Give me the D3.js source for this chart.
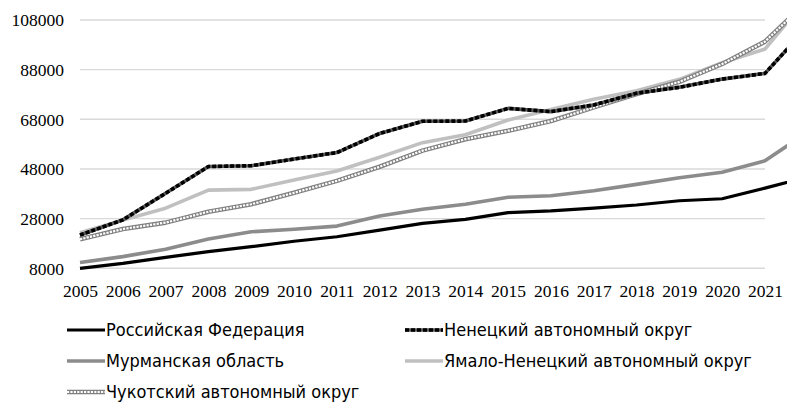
<!DOCTYPE html>
<html><head><meta charset="utf-8">
<script src="https://cdn.jsdelivr.net/npm/d3@7"></script>
<style>
html,body{margin:0;padding:0;background:#fff;}
svg{display:block;}
</style></head>
<body>
<svg id="chart" width="787" height="404"></svg>
<script>
const years = [2005,2006,2007,2008,2009,2010,2011,2012,2013,2014,2015,2016,2017,2018,2019,2020,2021,2022];
const yearLabels = ["2005","2006","2007","2008","2009","2010","2011","2012","2013","2014","2015","2016","2017","2018","2019","2020","2021"];
const yTicks = [8000,28000,48000,68000,88000,108000];
const seriesNames = ["Российская Федерация","Ненецкий автономный округ","Мурманская область","Ямало-Ненецкий автономный округ","Чукотский автономный округ"];
const russia   = [8000,10000,12400,14700,16700,18900,20700,23400,26100,27700,30400,31100,32200,33500,35200,36000,40300,44800];
const nenets   = [21400,27500,38200,49000,49300,52000,54600,62300,67200,67300,72400,71100,73800,78500,80900,84200,86500,105300];
const murmansk = [10300,12700,15700,19800,22700,23700,25000,29100,31800,33800,36600,37200,39200,41800,44500,46700,51300,62900];
const yamal    = [22300,27400,32200,39500,39800,43600,47200,52700,58600,61800,67700,72000,76100,79500,84100,90800,96300,117000];
const chukotka = [19700,23800,26400,30800,33800,38400,43200,48900,55400,60000,63400,67300,72800,78200,83100,90300,99300,115700];

const AXIS_FONT = "Liberation Serif";
const LEG_FONT = "DejaVu Sans Condensed";

const svg = d3.select("#chart");
const x = d3.scalePoint().domain(years).range([80, 80 + 17*42.81]);
const y = d3.scaleLinear().domain([8000,108000]).range([268.3, 20]);

svg.append("g").selectAll("line").data(yTicks).join("line")
  .attr("x1", x(2005)).attr("x2", x(2021))
  .attr("y1", d=>y(d)).attr("y2", d=>y(d))
  .attr("stroke", "#d9d9d9").attr("stroke-width", 1.4);

const yAxis = d3.axisLeft(y).tickValues(yTicks).tickSize(0).tickPadding(0).tickFormat(d3.format("d"));
const gy = svg.append("g").attr("transform","translate(64,0)").call(yAxis);
gy.select(".domain").remove();
gy.selectAll("text").attr("dy","0.33em").attr("fill","#000")
  .style("font-family", AXIS_FONT).style("font-size","17.5px");

const xAxis = d3.axisBottom(x).tickValues(yearLabels.map(Number)).tickSize(0).tickPadding(0).tickFormat(d=>String(d));
const gx = svg.append("g").attr("transform","translate(0,285)").call(xAxis);
gx.select(".domain").remove();
gx.selectAll("text").attr("dy","0.71em").attr("fill","#000")
  .style("font-family", AXIS_FONT).style("font-size","17.5px");

const line = d3.line().x((d,i)=>x(years[i])).y(d=>y(d));
const plot = svg.append("g");

function drawSeries(g, data, style){
  style.forEach(s=>{
    g.append("path").attr("d", line(data))
      .attr("fill","none").attr("stroke", s.c).attr("stroke-width", s.w)
      .attr("stroke-dasharray", s.dash || null)
      .attr("stroke-linejoin","round");
  });
}
const styles = {
  russia:   [{c:"#000", w:3.2}],
  murmansk: [{c:"#8c8c8c", w:3.6}],
  yamal:    [{c:"#c0c0c0", w:3.6}],
  nenets:   [{c:"#5a5a5a", w:3.6},{c:"#000", w:3.6, dash:"4,2"}],
  chukotka: [{c:"#7f7f7f", w:4.6},{c:"#fff", w:2.2, dash:"2.2,1.2"}]
};
drawSeries(plot, russia, styles.russia);
drawSeries(plot, murmansk, styles.murmansk);
drawSeries(plot, yamal, styles.yamal);
drawSeries(plot, chukotka, styles.chukotka);
drawSeries(plot, nenets, styles.nenets);

const legendItems = [
  {name: seriesNames[0], st: styles.russia,   x: 67,  y: 330},
  {name: seriesNames[1], st: styles.nenets,   x: 405, y: 330},
  {name: seriesNames[2], st: styles.murmansk, x: 67,  y: 361},
  {name: seriesNames[3], st: styles.yamal,    x: 405, y: 361},
  {name: seriesNames[4], st: styles.chukotka, x: 67,  y: 392}
];
const lg = svg.append("g");
legendItems.forEach(it=>{
  const g = lg.append("g");
  it.st.forEach(s=>{
    g.append("line").attr("x1", it.x).attr("x2", it.x+38).attr("y1", it.y).attr("y2", it.y)
      .attr("stroke", s.c).attr("stroke-width", s.w).attr("stroke-dasharray", s.dash||null);
  });
  g.append("text").attr("x", it.x+39).attr("y", it.y).attr("dy","0.35em").attr("fill","#000")
    .style("font-family", LEG_FONT).style("font-size","18px").text(it.name);
});
</script>
</body></html>
